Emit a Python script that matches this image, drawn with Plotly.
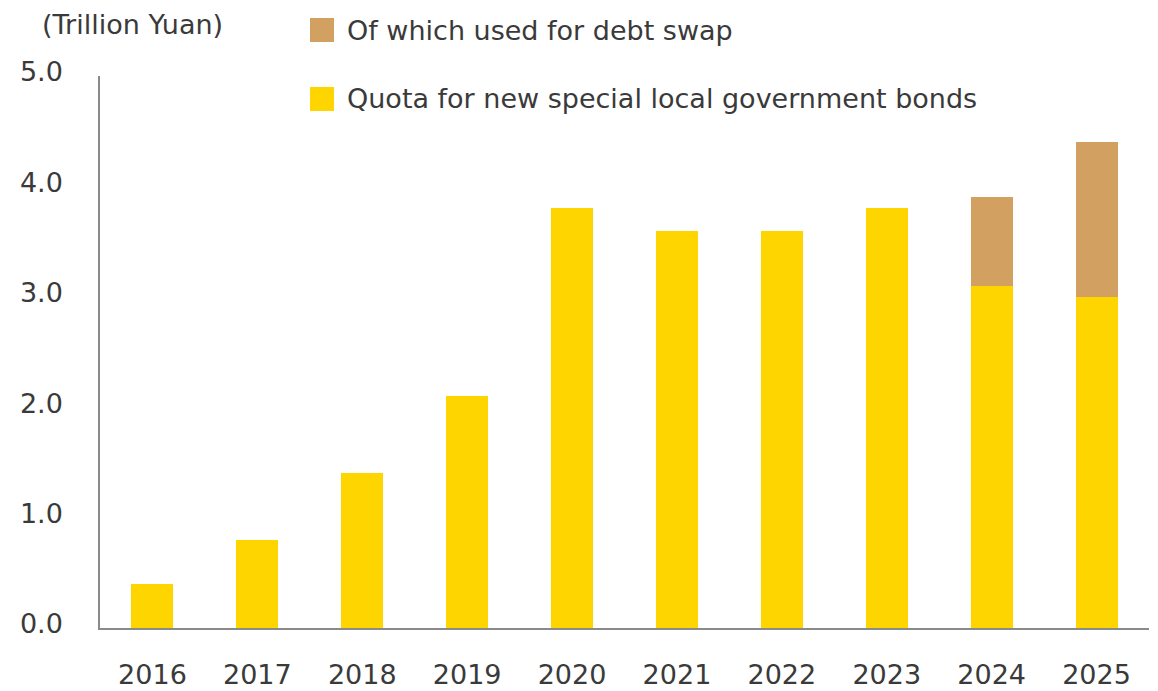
import plotly.graph_objects as go

# datos (billones de yuanes)
anios = ['2016', '2017', '2018', '2019', '2020', '2021', '2022', '2023', '2024', '2025']
cuota_nueva = [0.4, 0.8, 1.4, 2.1, 3.8, 3.6, 3.6, 3.8, 3.1, 3.0]
canje_deuda = [0, 0, 0, 0, 0, 0, 0, 0, 0.8, 1.4]

nombres = ['Of which used for debt swap', 'Quota for new special local government bonds']
colores = ['#D2A060', '#FFD500']
fuente = 'DejaVu Sans'
color_texto = '#3a3a3a'

fig = go.Figure()
fig.add_trace(go.Bar(x=anios, y=cuota_nueva, name=nombres[1], marker=dict(color=colores[1], line=dict(width=0))))
fig.add_trace(go.Bar(x=anios, y=canje_deuda, name=nombres[0], marker=dict(color=colores[0], line=dict(width=0))))

fig.update_layout(
    barmode='stack',
    bargap=0.6,
    width=1158,
    height=691,
    margin=dict(l=100, r=9, t=76, b=63),
    plot_bgcolor='white',
    paper_bgcolor='white',
    showlegend=False,
    font=dict(family=fuente, size=27, color=color_texto),
)

fig.update_yaxes(
    range=[0, 5], dtick=1, tickformat='.1f',
    showgrid=False, zeroline=False, automargin=False,
    showline=True, linecolor='#8a8a8a', linewidth=1.5,
    ticks='', ticklabelstandoff=30, ticklabelshift=-4,
)
fig.update_xaxes(
    showgrid=False, showline=True, linecolor='#8a8a8a', linewidth=1.5,
    ticks='', ticklabelstandoff=22, automargin=False,
)

# leyenda hecha a mano para tener cuadros grandes
filas_y = [30, 99]
for nombre, color, yy in zip(nombres, colores, filas_y):
    fig.add_shape(type='rect', xref='paper', yref='paper',
                  x0=(310 - 100) / 1049, x1=(334 - 100) / 1049,
                  y0=(628 - yy - 12) / 552, y1=(628 - yy + 12) / 552,
                  fillcolor=color, line=dict(width=0))
    fig.add_annotation(text=nombre, xref='paper', yref='paper',
                       x=(345 - 100) / 1049, y=(628 - yy) / 552,
                       xanchor='left', yanchor='middle', showarrow=False)

fig.add_annotation(text='(Trillion Yuan)', xref='paper', yref='paper',
                   x=(132 - 100) / 1049, y=(628 - 25) / 552,
                   xanchor='center', yanchor='middle', showarrow=False)

# quitar el margen del body para que el grafico quede en 0,0
fig.write_html("out.html", config={'displayModeBar': False},
               post_script="document.body.style.margin='0';")
